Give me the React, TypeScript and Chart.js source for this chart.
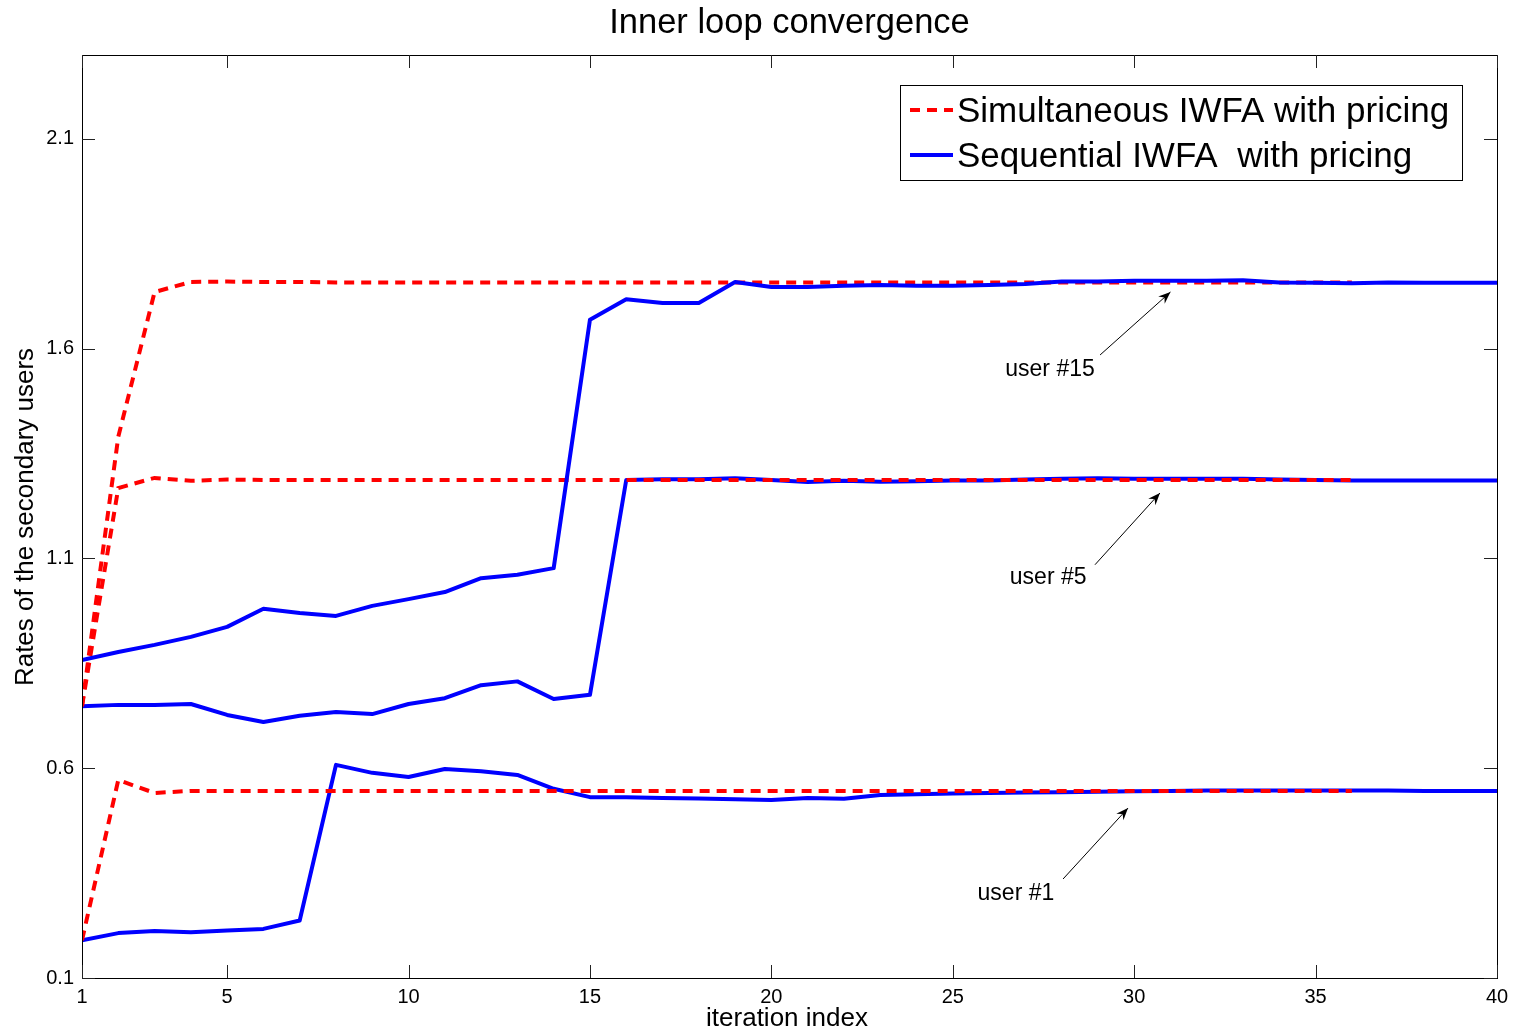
import React, { useEffect, useRef } from "react";
import { Chart, registerables } from "chart.js";

Chart.register(...registerables);

// ---------- data ----------
const iterations = [
  1, 2, 3, 4, 5, 6, 7, 8, 9, 10, 11, 12, 13, 14, 15, 16, 17, 18, 19, 20,
  21, 22, 23, 24, 25, 26, 27, 28, 29, 30, 31, 32, 33, 34, 35, 36, 37, 38, 39, 40,
];
const simIterations = [
  1, 2, 3, 4, 5, 6, 7, 8, 9, 10, 11, 12, 13, 14, 15, 16, 17, 18,
  19, 20, 21, 22, 23, 24, 25, 26, 27, 28, 29, 30, 31, 32, 33, 34, 35, 36,
];

const seqUser15 = [
  0.858, 0.877, 0.894, 0.913, 0.937, 0.98, 0.97, 0.963, 0.987, 1.003,
  1.02, 1.053, 1.061, 1.077, 1.669, 1.718, 1.709, 1.709, 1.759, 1.747,
  1.747, 1.75, 1.752, 1.75, 1.75, 1.752, 1.754, 1.76, 1.76, 1.762,
  1.762, 1.762, 1.763, 1.758, 1.757, 1.756, 1.758, 1.757, 1.757, 1.757,
];
const seqUser5 = [
  0.748, 0.751, 0.751, 0.753, 0.727, 0.71, 0.725, 0.734, 0.729, 0.753,
  0.767, 0.798, 0.807, 0.765, 0.775, 1.287, 1.289, 1.289, 1.291, 1.287,
  1.282, 1.285, 1.283, 1.284, 1.286, 1.286, 1.288, 1.29, 1.291, 1.29,
  1.29, 1.29, 1.29, 1.288, 1.287, 1.286, 1.286, 1.286, 1.286, 1.286,
];
const seqUser1 = [
  0.19, 0.207, 0.212, 0.209, 0.213, 0.217, 0.237, 0.608, 0.589, 0.579,
  0.598, 0.593, 0.584, 0.551, 0.531, 0.531, 0.529, 0.528, 0.526, 0.524,
  0.529, 0.527, 0.536, 0.538, 0.54, 0.541, 0.542, 0.543, 0.544, 0.545,
  0.546, 0.547, 0.547, 0.547, 0.547, 0.547, 0.547, 0.546, 0.546, 0.546,
];

const simUser15 = [
  0.748, 1.39, 1.735, 1.759, 1.76, 1.759, 1.759, 1.758, 1.758, 1.758,
  1.758, 1.758, 1.758, 1.758, 1.758, 1.758, 1.758, 1.758, 1.758, 1.758,
  1.758, 1.758, 1.758, 1.758, 1.758, 1.758, 1.758, 1.758, 1.758, 1.758,
  1.758, 1.758, 1.758, 1.758, 1.758, 1.758,
];
const simUser5 = [
  0.748, 1.268, 1.292, 1.285, 1.288, 1.287, 1.287, 1.287, 1.287, 1.287,
  1.287, 1.287, 1.287, 1.287, 1.287, 1.287, 1.287, 1.287, 1.287, 1.287,
  1.287, 1.287, 1.287, 1.287, 1.287, 1.287, 1.287, 1.287, 1.287, 1.287,
  1.287, 1.287, 1.287, 1.287, 1.287, 1.287,
];
const simUser1 = [
  0.19, 0.572, 0.541, 0.546, 0.546, 0.546, 0.546, 0.546, 0.546, 0.546,
  0.546, 0.546, 0.546, 0.546, 0.546, 0.546, 0.546, 0.546, 0.546, 0.546,
  0.546, 0.546, 0.546, 0.546, 0.546, 0.546, 0.546, 0.546, 0.546, 0.546,
  0.546, 0.546, 0.546, 0.546, 0.546, 0.546,
];

const xTicks = [1, 5, 10, 15, 20, 25, 30, 35, 40];
const yTicks = [0.1, 0.6, 1.1, 1.6, 2.1];

const titleText = "Inner loop convergence";
const xTitle = "iteration index";
const yTitle = "Rates of the secondary users";
const legendLabels = ["Simultaneous IWFA with pricing", "Sequential IWFA  with pricing"];

// annotation text + arrows (data coordinates)
const annotationLabels = ["user #15", "user #5", "user #1"];
const annotationText = [
  { x: 27.68, y: 1.55 },
  { x: 27.63, y: 1.054 },
  { x: 26.74, y: 0.3 },
];
const annotationTail = [
  { x: 29.06, y: 1.585 },
  { x: 28.92, y: 1.085 },
  { x: 28.04, y: 0.336 },
];
const annotationHead = [
  { x: 31.0, y: 1.735 },
  { x: 30.71, y: 1.256 },
  { x: 29.83, y: 0.505 },
];

const RED = "#ff0000";
const BLUE = "#0000ff";
const FONT = "'Liberation Sans', Arial, Helvetica, sans-serif";

function pts(xs: number[], ys: number[]) {
  return xs.map((x, i) => ({ x, y: ys[i] }));
}

const decorPlugin = {
  id: "decor",
  afterDraw(chart: any) {
    const { ctx, chartArea: a } = chart;
    const xs = chart.scales.x;
    const ys = chart.scales.y;
    ctx.save();

    // frame
    ctx.strokeStyle = "#000";
    ctx.lineWidth = 1;
    ctx.strokeRect(Math.round(a.left) + 0.5, Math.round(a.top) + 0.5, Math.round(a.right - a.left), Math.round(a.bottom - a.top));

    // inward ticks on all sides
    const TL = 13;
    ctx.strokeStyle = "#222";
    ctx.beginPath();
    for (const v of xTicks) {
      const px = Math.round(xs.getPixelForValue(v)) + 0.5;
      ctx.moveTo(px, a.bottom);
      ctx.lineTo(px, a.bottom - TL);
      ctx.moveTo(px, a.top);
      ctx.lineTo(px, a.top + TL);
    }
    for (const v of yTicks) {
      const py = Math.round(ys.getPixelForValue(v)) + 0.5;
      ctx.moveTo(a.left, py);
      ctx.lineTo(a.left + TL, py);
      ctx.moveTo(a.right, py);
      ctx.lineTo(a.right - TL, py);
    }
    ctx.stroke();

    // titles
    ctx.fillStyle = "#000";
    ctx.textAlign = "center";
    ctx.textBaseline = "middle";
    ctx.font = `34.5px ${FONT}`;
    ctx.fillText(titleText, (a.left + a.right) / 2, 23);
    ctx.font = `26px ${FONT}`;
    ctx.fillText(xTitle, 787, 1019);
    ctx.save();
    ctx.translate(26, 517);
    ctx.rotate(-Math.PI / 2);
    ctx.fillText(yTitle, 0, 0);
    ctx.restore();

    // annotations
    ctx.font = `23px ${FONT}`;
    for (let i = 0; i < annotationLabels.length; i++) {
      const tx = xs.getPixelForValue(annotationText[i].x);
      const ty = ys.getPixelForValue(annotationText[i].y);
      ctx.fillStyle = "#000";
      ctx.fillText(annotationLabels[i], tx, ty);
      const x0 = xs.getPixelForValue(annotationTail[i].x);
      const y0 = ys.getPixelForValue(annotationTail[i].y);
      const x1 = xs.getPixelForValue(annotationHead[i].x);
      const y1 = ys.getPixelForValue(annotationHead[i].y);
      ctx.strokeStyle = "#000";
      ctx.lineWidth = 1;
      ctx.beginPath();
      ctx.moveTo(x0, y0);
      ctx.lineTo(x1, y1);
      ctx.stroke();
      const ang = Math.atan2(y1 - y0, x1 - x0);
      const hl = 13;
      const sp = 0.38;
      ctx.beginPath();
      ctx.moveTo(x1, y1);
      ctx.lineTo(x1 - hl * Math.cos(ang - sp), y1 - hl * Math.sin(ang - sp));
      ctx.lineTo(x1 - 8 * Math.cos(ang), y1 - 8 * Math.sin(ang));
      ctx.lineTo(x1 - hl * Math.cos(ang + sp), y1 - hl * Math.sin(ang + sp));
      ctx.closePath();
      ctx.fillStyle = "#000";
      ctx.fill();
    }

    // legend
    const bx = 900, by = 85, bw = 562, bh = 95;
    ctx.fillStyle = "#fff";
    ctx.fillRect(bx, by, bw, bh);
    ctx.strokeStyle = "#000";
    ctx.lineWidth = 1;
    ctx.strokeRect(bx + 0.5, by + 0.5, bw, bh);
    const rows = [110, 155];
    const styles = [
      { color: RED, dash: [10, 7] },
      { color: BLUE, dash: [] as number[] },
    ];
    for (let i = 0; i < 2; i++) {
      ctx.strokeStyle = styles[i].color;
      ctx.lineWidth = 4;
      ctx.setLineDash(styles[i].dash);
      ctx.beginPath();
      ctx.moveTo(910, rows[i]);
      ctx.lineTo(953, rows[i]);
      ctx.stroke();
      ctx.setLineDash([]);
      ctx.fillStyle = "#000";
      ctx.textAlign = "left";
      ctx.font = `35px ${FONT}`;
      ctx.fillText(legendLabels[i], 957, rows[i] + 2);
    }
    ctx.restore();
  },
};

export default function App() {
  const ref = useRef<HTMLCanvasElement>(null);

  useEffect(() => {
    document.body.style.margin = "0";
    const canvas = ref.current;
    if (!canvas) return;

    const lineBase = {
      pointRadius: 0,
      borderWidth: 4,
      fill: false,
      tension: 0,
      borderJoinStyle: "round" as const,
    };

    const chart = new Chart(canvas, {
      type: "line",
      data: {
        datasets: [
          { ...lineBase, label: legendLabels[1], data: pts(iterations, seqUser15), borderColor: BLUE },
          { ...lineBase, label: legendLabels[0], data: pts(simIterations, simUser15), borderColor: RED, borderDash: [10, 7], borderJoinStyle: "miter" as const },
          { ...lineBase, label: legendLabels[0], data: pts(simIterations, simUser5), borderColor: RED, borderDash: [10, 7], borderJoinStyle: "miter" as const },
          { ...lineBase, label: legendLabels[0], data: pts(simIterations, simUser1), borderColor: RED, borderDash: [10, 7], borderJoinStyle: "miter" as const },
          { ...lineBase, label: legendLabels[1], data: pts(iterations, seqUser5), borderColor: BLUE },
          { ...lineBase, label: legendLabels[1], data: pts(iterations, seqUser1), borderColor: BLUE },
        ],
      },
      options: {
        responsive: false,
        animation: false,
        events: [],
        layout: { padding: { left: 0, top: 55, right: 21, bottom: 0 } },
        plugins: {
          legend: { display: false },
          title: { display: false },
          tooltip: { enabled: false },
        },
        scales: {
          x: {
            type: "linear",
            min: 1,
            max: 40,
            grid: { display: false, drawTicks: false },
            border: { display: false },
            ticks: {
              autoSkip: false,
              maxRotation: 0,
              padding: 7,
              color: "#000",
              font: { family: FONT, size: 20 },
              callback: (v: any) => String(v),
            },
            afterBuildTicks: (s: any) => {
              s.ticks = xTicks.map((v) => ({ value: v }));
            },
            afterFit: (s: any) => {
              s.height = 57;
              s.paddingLeft = 0;
              s.paddingRight = 0;
            },
          },
          y: {
            type: "linear",
            min: 0.1,
            max: 2.3,
            grid: { display: false, drawTicks: false },
            border: { display: false },
            ticks: {
              autoSkip: false,
              padding: 8,
              color: "#000",
              font: { family: FONT, size: 20 },
              callback: (v: any) => Number(v).toFixed(1),
            },
            afterBuildTicks: (s: any) => {
              s.ticks = yTicks.map((v) => ({ value: v }));
            },
            afterFit: (s: any) => {
              s.width = 82;
              s.paddingTop = 0;
              s.paddingBottom = 0;
            },
          },
        },
      },
      plugins: [decorPlugin],
    });

    return () => chart.destroy();
  }, []);

  return (
    <div style={{ width: 1518, height: 1035, position: "relative", background: "#fff" }}>
      <canvas ref={ref} width={1518} height={1035} style={{ display: "block" }} />
    </div>
  );
}
